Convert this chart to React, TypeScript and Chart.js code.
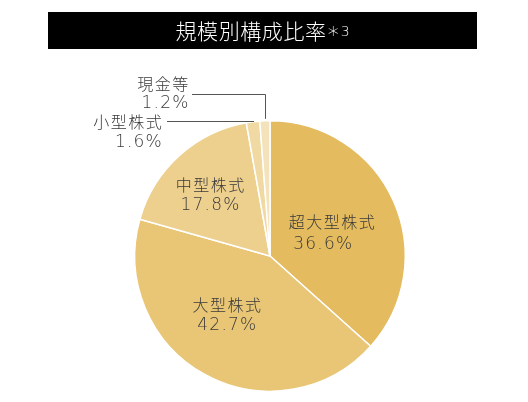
import { useEffect, useRef } from "react";
import { Chart, registerables } from "chart.js";

Chart.register(...registerables);

// ---- data ----
const TITLE = "規模別構成比率";
const TITLE_NOTE_MARK = "*";
const TITLE_NOTE_NUM = "3";
const categories = ["超大型株式", "大型株式", "中型株式", "小型株式", "現金等"];
const shares = [36.6, 42.7, 17.8, 1.6, 1.2];
const sliceColors = ["#E4BB5E", "#E9C676", "#EDCF8E", "#F0D9A3", "#F3E2BA"];

// ---- label layout (styling only) ----
const insideLayout: Record<number, { frac: number; shift: number; nameDx: number; pctDx: number; gap: number }> = {
  0: { frac: 0.457, shift: 1.7, nameDx: 4.5, pctDx: -4.5, gap: 21.6 },
  1: { frac: 0.536, shift: 7.8, nameDx: 0, pctDx: 0, gap: 18.7 },
  2: { frac: 0.636, shift: -2.1, nameDx: 0, pctDx: 0, gap: 18 },
};
const outsideLayout: Record<number, { rise: number; lineEndX: number; textGap: number; nameDy: number; pctDy: number }> = {
  3: { rise: 0.4, lineEndX: 167, textGap: 5.3, nameDy: 0.8, pctDy: 19.6 },
  4: { rise: 26.8, lineEndX: 192, textGap: 3.7, nameDy: -10.5, pctDy: 7.9 },
};

const NAME_SIZE = 16;
const PCT_SIZE = 17;
const NAME_FONT = `300 ${NAME_SIZE}px 'Noto Sans CJK JP', sans-serif`;
const PCT_FONT = `200 ${PCT_SIZE}px 'DejaVu Sans', sans-serif`;
const NAME_SPACING = 1.5;
const PCT_SPACING = 1.2;
const TEXT_COLOR = "#3a3a3a";

function drawText(
  ctx: CanvasRenderingContext2D,
  text: string,
  x: number,
  inkCenterY: number,
  align: "center" | "right" | "left",
  font: string,
  spacing: number,
  ascentRatio: number,
  size: number
) {
  ctx.font = font;
  (ctx as any).letterSpacing = spacing + "px";
  ctx.textAlign = "left";
  ctx.textBaseline = "alphabetic";
  const w = ctx.measureText(text).width - spacing;
  let left = x;
  if (align === "center") left = x - w / 2;
  else if (align === "right") left = x - w;
  ctx.fillText(text, left, inkCenterY + ascentRatio * size);
  (ctx as any).letterSpacing = "0px";
}

const labelPlugin = {
  id: "sliceLabels",
  afterDatasetsDraw(chart: any) {
    const ctx: CanvasRenderingContext2D = chart.ctx;
    const meta = chart.getDatasetMeta(0);
    ctx.save();
    meta.data.forEach((arc: any, i: number) => {
      const { x, y, startAngle, endAngle, outerRadius } = arc.getProps(
        ["x", "y", "startAngle", "endAngle", "outerRadius"],
        true
      );
      const mid = (startAngle + endAngle) / 2;
      const name = categories[i];
      const pct = shares[i].toFixed(1) + "%";
      ctx.fillStyle = TEXT_COLOR;
      const inL = insideLayout[i];
      if (inL) {
        const a = mid + (inL.shift * Math.PI) / 180;
        const r = outerRadius * inL.frac;
        const cx = x + r * Math.cos(a);
        const cy = y + r * Math.sin(a);
        drawText(ctx, name, cx + inL.nameDx, cy - inL.gap / 2, "center", NAME_FONT, NAME_SPACING, 0.38, NAME_SIZE);
        drawText(ctx, pct, cx + inL.pctDx, cy + inL.gap / 2, "center", PCT_FONT, PCT_SPACING, 0.365, PCT_SIZE);
        return;
      }
      const outL = outsideLayout[i];
      if (outL) {
        const px = x + outerRadius * Math.cos(mid);
        const py = y + outerRadius * Math.sin(mid);
        const ly = py - outL.rise;
        ctx.strokeStyle = "#555555";
        ctx.lineWidth = 1;
        ctx.beginPath();
        if (outL.rise > 2) {
          ctx.moveTo(Math.round(px) + 0.5, py - 2);
          ctx.lineTo(Math.round(px) + 0.5, Math.round(ly) + 0.5);
          ctx.lineTo(outL.lineEndX, Math.round(ly) + 0.5);
        } else {
          ctx.moveTo(px + 1, Math.round(ly) + 0.5);
          ctx.lineTo(outL.lineEndX, Math.round(ly) + 0.5);
        }
        ctx.stroke();
        const tx = outL.lineEndX - outL.textGap;
        drawText(ctx, name, tx, ly + outL.nameDy, "right", NAME_FONT, NAME_SPACING, 0.38, NAME_SIZE);
        drawText(ctx, pct, tx, ly + outL.pctDy, "right", PCT_FONT, PCT_SPACING, 0.365, PCT_SIZE);
      }
    });
    ctx.restore();
  },
};

const titlePlugin = {
  id: "titleBar",
  afterDraw(chart: any) {
    const ctx: CanvasRenderingContext2D = chart.ctx;
    ctx.save();
    ctx.fillStyle = "#000000";
    ctx.fillRect(48, 12, 429, 37);
    ctx.fillStyle = "#ffffff";
    ctx.textBaseline = "alphabetic";
    ctx.textAlign = "left";
    const mainFont = "300 21px 'Noto Sans CJK JP', sans-serif";
    const markFont = "300 22px 'DejaVu Sans', sans-serif";
    const numFont = "200 14px 'DejaVu Sans', sans-serif";
    (ctx as any).letterSpacing = "0.6px";
    ctx.font = mainFont;
    const w1 = ctx.measureText(TITLE).width;
    (ctx as any).letterSpacing = "0px";
    ctx.font = markFont;
    const w2 = ctx.measureText(TITLE_NOTE_MARK).width;
    ctx.font = numFont;
    const w3 = ctx.measureText(TITLE_NOTE_NUM).width;
    const total = w1 + 1 + w2 + 2 + w3;
    const start = 262.5 - total / 2;
    (ctx as any).letterSpacing = "0.6px";
    ctx.font = mainFont;
    ctx.fillText(TITLE, start, 31.5 + 0.38 * 21);
    (ctx as any).letterSpacing = "0px";
    ctx.font = markFont;
    ctx.fillText(TITLE_NOTE_MARK, start + w1 + 1, 42);
    ctx.font = numFont;
    ctx.fillText(TITLE_NOTE_NUM, start + w1 + 1 + w2 + 2, 36);
    ctx.restore();
  },
};

export default function App() {
  const ref = useRef<HTMLCanvasElement | null>(null);
  useEffect(() => {
    if (!ref.current) return;
    const chart = new Chart(ref.current, {
      type: "pie",
      data: {
        labels: categories,
        datasets: [
          {
            data: shares,
            backgroundColor: sliceColors,
            borderColor: "#ffffff",
            borderWidth: 1.5,
          },
        ],
      },
      options: {
        animation: false,
        responsive: false,
        layout: { padding: { left: 134, right: 122, top: 120, bottom: 10 } },
        plugins: {
          legend: { display: false },
          tooltip: { enabled: false },
          title: { display: false },
        },
      },
      plugins: [labelPlugin, titlePlugin],
    });
    return () => chart.destroy();
  }, []);
  return (
    <div style={{ position: "fixed", left: 0, top: 0, width: 528, height: 402, background: "#ffffff" }}>
      <canvas ref={ref} width={528} height={402} style={{ display: "block" }} />
    </div>
  );
}
